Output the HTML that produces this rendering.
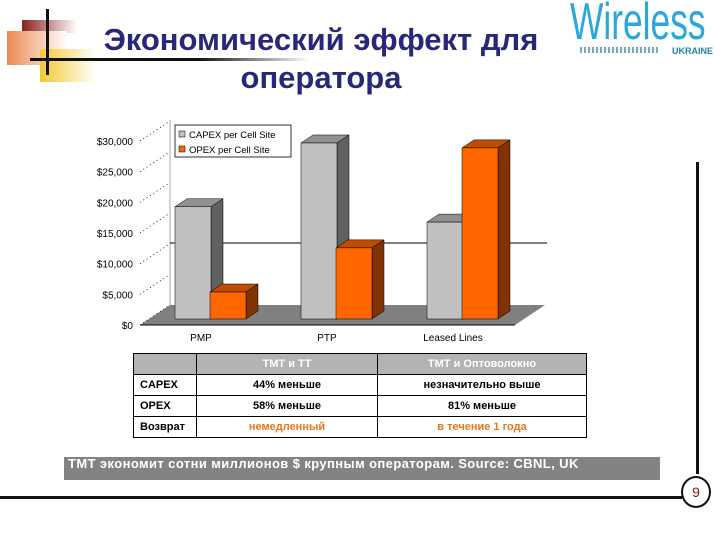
<!DOCTYPE html>
<html><head><meta charset="utf-8"><style>
body{margin:0;width:720px;height:540px;background:#fff;position:relative;overflow:hidden;font-family:"Liberation Sans","Noto Sans CJK SC",sans-serif}
.a{position:absolute}
table{border-collapse:collapse;font-size:11px;font-weight:bold}
td{border:1.5px solid #000;height:20px;padding:0 6px;text-align:center}
</style></head><body>
<div class="a" style="left:22px;top:20px;width:55px;height:13px;background:linear-gradient(90deg,#8a2020,#fff)"></div>
<div class="a" style="left:7px;top:31px;width:60px;height:34px;background:linear-gradient(90deg,#eb8a50,#fff)"></div>
<div class="a" style="left:40px;top:49px;width:55px;height:33px;background:linear-gradient(90deg,#f5c830,#fff)"></div>
<div class="a" style="left:46px;top:9px;width:3px;height:66px;background:#111"></div>
<div class="a" style="left:30px;top:58px;width:280px;height:3px;background:linear-gradient(90deg,#111 60%,#fff)"></div>
<div class="a" style="left:60px;top:21px;width:522px;text-align:center;font-size:31px;font-weight:bold;color:#27287a;line-height:38px">Экономический эффект для<br>оператора</div>
<div class="a" style="left:570px;top:-8px;font-size:52px;color:#2aa8de;transform:scaleX(0.68);transform-origin:0 0;white-space:nowrap">Wireless</div>
<div class="a" style="left:672px;top:46px;font-size:9px;color:#2a7fb0;font-weight:bold">UKRAINE</div>
<div class="a" style="left:580px;top:47px;width:80px;height:6px;background:repeating-linear-gradient(90deg,#7ab 0 2px,#fff 2px 4px)"></div>

<svg class="a" style="left:0;top:0" width="720" height="540">
<g id="g"></g>
</svg>

<div class="a" style="left:696px;top:162px;width:3px;height:312px;background:#111"></div>
<div class="a" style="left:0;top:496px;width:682px;height:3px;background:#111"></div>
<div class="a" style="left:681px;top:476px;width:26px;height:28px;border:2px solid #111;border-radius:50%;background:#fff;text-align:center;line-height:28px;font-size:14px;color:#8a1010">9</div>

<table class="a" style="left:133px;top:353px;width:454px">
<tr style="background:#b3b3b3;color:#fff"><td style="width:50px"></td><td style="width:168px">ТМТ и ТТ</td><td>ТМТ и Оптоволокно</td></tr>
<tr><td style="text-align:left">CAPEX</td><td>44% меньше</td><td>незначительно выше</td></tr>
<tr><td style="text-align:left">OPEX</td><td>58% меньше</td><td>81% меньше</td></tr>
<tr><td style="text-align:left">Возврат</td><td style="color:#e8761e">немедленный</td><td style="color:#e8761e">в течение 1 года</td></tr>
</table>
<div class="a" style="left:64px;top:457px;width:596px;height:23px;background:#838383;color:#fff;font-weight:bold;font-size:13px;line-height:14px;padding:0 0 0 4px;box-sizing:border-box;letter-spacing:0.4px">ТМТ экономит сотни миллионов $ крупным операторам. Source: CBNL, UK</div>

<script>
const categories=["PMP","PTP","Leased Lines"];
const capex=[18300,28700,15800];
const opex=[4400,11600,27900];
const ticks=[0,5000,10000,15000,20000,25000,30000];
const g=document.getElementById('g');
const NS='http://www.w3.org/2000/svg';
function el(t,a,txt){const e=document.createElementNS(NS,t);for(const k in a)e.setAttribute(k,a[k]);if(txt!=null)e.textContent=txt;g.appendChild(e);return e;}
const y0=325,pxPer=184/30000;
function yAxis(v){return y0-v*pxPer;}
const dx=30,dy=-20;
let e=el('polygon',{points:`140,325 515,325 ${515+dx},${325+dy} ${140+dx},${325+dy}`,fill:'#808080'});

e=el('line',{x1:170,y1:120,x2:170,y2:305,stroke:'#aaa','stroke-width':1});

e=el('line',{x1:170,y1:243,x2:547,y2:243,stroke:'#000','stroke-width':1});

e=el('line',{x1:140,y1:325,x2:515,y2:325,stroke:'#000','stroke-width':1});

ticks.forEach(t=>{const y=yAxis(t);
 let l=el('line',{x1:140,y1:y,x2:170,y2:y-20,stroke:'#000','stroke-width':0.8,'stroke-dasharray':'1,3'});
 
 let tx=el('text',{x:133,y:y+4,'text-anchor':'end','font-size':10,fill:'#000'},'$'+t.toLocaleString('en-US'));
 
});
const bw=36,bdx=12,bdy=-8,base=319;
function bar(x,v,front,side,top,name){
 const yt=base-v*pxPer;
 let p=el('polygon',{points:`${x},${yt} ${x+bdx},${yt+bdy} ${x+bw+bdx},${yt+bdy} ${x+bw},${yt}`,fill:top,stroke:'#000','stroke-width':0.5});
 
 p=el('polygon',{points:`${x+bw},${yt} ${x+bw+bdx},${yt+bdy} ${x+bw+bdx},${base+bdy} ${x+bw},${base}`,fill:side,stroke:'#000','stroke-width':0.5});
 
 p=el('rect',{x:x,y:yt,width:bw,height:base-yt,fill:front,stroke:'#000','stroke-width':0.5});
 
}
categories.forEach((c,i)=>{
 const cx=210+i*126;
 bar(cx-35,capex[i],'#c0c0c0','#606060','#909090','bar-capex-'+i);
 bar(cx,opex[i],'#ff6600','#803300','#c04c00','bar-opex-'+i);
 let t=el('text',{x:cx-9,y:341,'text-anchor':'middle','font-size':10,fill:'#000'},c);
 
});
e=el('rect',{x:175,y:125,width:116,height:32,fill:'#fff',stroke:'#000','stroke-width':0.8});

e=el('rect',{x:179,y:131,width:6,height:6,fill:'#c0c0c0',stroke:'#000','stroke-width':0.5});

e=el('text',{x:189,y:138,'font-size':9.5},'CAPEX per Cell Site');

e=el('rect',{x:179,y:146,width:6,height:6,fill:'#ff6600',stroke:'#000','stroke-width':0.5});

e=el('text',{x:189,y:153,'font-size':9.5},'OPEX per Cell Site');

</script>
</body></html>
